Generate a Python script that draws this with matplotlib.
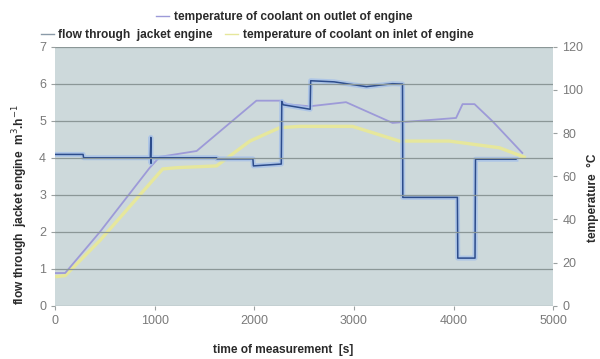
import matplotlib
matplotlib.use('Agg')
import matplotlib.pyplot as plt

plt.rcParams['font.family'] = ['Liberation Sans', 'DejaVu Sans']

# flow through jacket engine [m3/h]
flow_t = [0, 280, 285, 955, 960, 962, 965, 1620, 1625, 1985, 1990, 2270, 2275, 2285,
          2290, 2560, 2565, 2800, 3125, 3387, 3487, 3490, 4038, 4042, 4215, 4220, 4626]
flow_v = [4.09, 4.09, 4.0, 4.0, 4.55, 3.85, 4.0, 4.0, 3.97, 3.97, 3.78, 3.83, 5.52, 5.45,
          5.43, 5.31, 6.08, 6.05, 5.92, 6.0, 5.99, 2.93, 2.93, 1.29, 1.29, 3.96, 3.96]

# coolant temperature on outlet of engine [C]
out_t = [0, 100, 450, 950, 1050, 1420, 2020, 2255, 2335, 2555, 2920, 3387, 4025, 4090,
         4210, 4390, 4690]
out_v = [15.2, 15.2, 34.3, 64, 69, 71.7, 95, 95, 93.3, 92.4, 94.3, 84.7, 87, 93.4,
         93.4, 85.5, 70.8]

# coolant temperature on inlet of engine [C]
in_t = [0, 100, 450, 950, 1080, 1230, 1620, 1955, 2255, 2455, 2985, 3455, 3955, 4460, 4725]
in_v = [13.5, 14, 30.3, 56.6, 63.4, 64, 64.8, 76.3, 82.5, 83.1, 83.1, 76.3, 76.3, 73.2, 68.6]

left_ticks = [0, 1, 2, 3, 4, 5, 6, 7]
right_ticks = [0, 20, 40, 60, 80, 100, 120]
x_ticks = [0, 1000, 2000, 3000, 4000, 5000]

bg = '#cdd9db'
tick_col = '#7a7a7a'
txt_col = '#2a2a2a'
fs = 8.6

fig = plt.figure(figsize=(6, 3.59), dpi=100)
ax = fig.add_axes([0.092, 0.148, 0.83, 0.722])
ax2 = ax.twinx()

# temperatures behind, flow on top
ax2.set_zorder(1)
ax.set_zorder(2)
ax.patch.set_visible(False)
ax2.patch.set_visible(True)
ax2.patch.set_facecolor(bg)

ax2.plot(in_t, in_v, color='#e6e79c', lw=2.4, solid_capstyle='butt')
ax2.plot(out_t, out_v, color='#9d9ad8', lw=1.3)

ax.plot(flow_t, flow_v, color='#a3bfea', lw=3.6, alpha=0.75)
ax.plot(flow_t, flow_v, color='#2c4c8c', lw=1.1)

ax.set_xlim(0, 5000)
ax.set_ylim(0, 7)
ax2.set_ylim(0, 120)
ax.set_xticks(x_ticks)
ax.set_yticks(left_ticks)
ax2.set_yticks(right_ticks)

ax.yaxis.grid(True, color='#8b9797', lw=0.9)
ax.set_axisbelow(False)

for a in (ax, ax2):
    for s in a.spines.values():
        s.set_visible(False)
    a.tick_params(colors='#9aa0a0', labelcolor=tick_col, labelsize=9, length=3, width=0.8)

# legend entries made from dummy handles
h_out, = ax.plot([], [], color='#9d9ad8', lw=1.0)
h_flow, = ax.plot([], [], color='#8a9aa8', lw=1.0)
h_in, = ax.plot([], [], color='#e6e79c', lw=1.0)
leg_kw = dict(loc='center', frameon=False, handlelength=1.1, handletextpad=0.4, borderpad=0,
              prop={'size': fs, 'weight': 'bold'})
l1 = fig.legend([h_out], ['temperature of coolant on outlet of engine'],
                bbox_to_anchor=(284 / 600, 1 - 17 / 359), **leg_kw)
l2 = fig.legend([h_flow, h_in], ['flow through  jacket engine', 'temperature of coolant on inlet of engine'],
                bbox_to_anchor=(257 / 600, 1 - 35 / 359), ncol=2, columnspacing=1.0, **leg_kw)
for lg in (l1, l2):
    for t in lg.get_texts():
        t.set_color(txt_col)

fig.text(20 / 600, 1 - 205 / 359, 'flow through  jacket engine  m$^3$.h$^{-1}$',
         rotation=90, ha='center', va='center', fontsize=fs, fontweight='bold', color=txt_col)
fig.text(593 / 600, 1 - 198 / 359, 'temperature  \u00b0C',
         rotation=90, ha='center', va='center', fontsize=fs, fontweight='bold', color=txt_col)
fig.text(283 / 600, 1 - 350 / 359, 'time of measurement  [s]',
         ha='center', va='center', fontsize=fs, fontweight='bold', color=txt_col)

fig.savefig('out.png', dpi=100, facecolor='white')
